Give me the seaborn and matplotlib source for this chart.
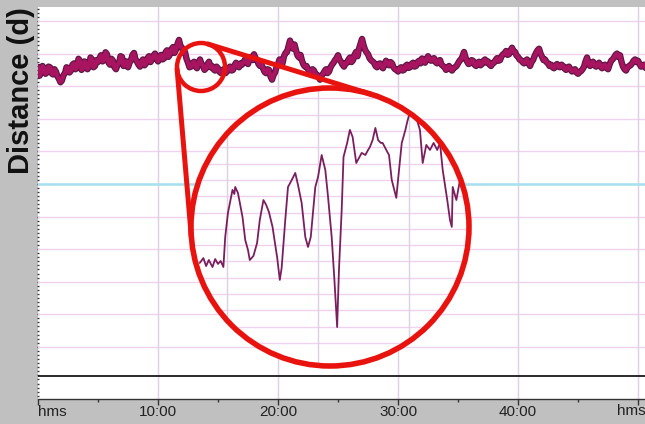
import numpy as np
import pandas as pd
import matplotlib
matplotlib.use("Agg")
import matplotlib.pyplot as plt
from matplotlib.patches import Circle
from matplotlib.ticker import FixedLocator
import seaborn as sns

# ---------------- data ----------------
# main trace: samples every 0.25 min ...
main_time = [i * 0.25 for i in range(204)]
main_dist = [
    9.59, 9.40, 9.55, 9.42, 9.58, 9.36, 9.44, 9.22, 9.18, 9.40,
    9.56, 9.48, 9.70, 9.58, 9.78, 9.55, 9.72, 9.60, 9.82, 9.62,
    9.74, 9.95, 9.80, 9.98, 9.66, 9.78, 9.52, 9.70, 9.90, 9.68,
    9.58, 9.80, 10.02, 9.75, 9.60, 9.82, 9.70, 9.92, 9.82, 10.00,
    9.76, 9.96, 9.85, 10.10, 9.98, 10.20, 10.12, 10.42, 10.18, 10.05,
    9.72, 9.60, 9.75, 9.55, 9.82, 9.62, 9.55, 9.75, 9.62, 9.48,
    9.55, 9.40, 9.52, 9.45, 9.60, 9.50, 9.72, 9.58, 9.66, 9.82,
    9.68, 9.90, 9.98, 9.80, 9.62, 9.55, 9.40, 9.50, 9.20, 9.42,
    9.68, 9.78, 9.92, 10.05, 10.40, 10.15, 10.10, 9.88, 9.78, 9.60,
    9.52, 9.40, 9.48, 9.35, 9.20, 9.38, 9.52, 9.45, 9.66, 9.80,
    9.95, 9.75, 9.60, 9.72, 9.88, 9.80, 10.05, 10.15, 10.45, 10.12,
    9.98, 9.80, 9.72, 9.58, 9.70, 9.55, 9.78, 9.64, 9.70, 9.52,
    9.45, 9.58, 9.50, 9.66, 9.58, 9.72, 9.62, 9.78, 9.85, 9.72,
    9.92, 9.78, 9.86, 9.70, 9.80, 9.62, 9.50, 9.62, 9.48, 9.58,
    9.70, 9.82, 10.05, 9.76, 9.70, 9.78, 9.62, 9.75, 9.68, 9.82,
    9.76, 9.62, 9.72, 9.86, 9.80, 9.98, 10.08, 9.98, 10.18, 10.05,
    9.90, 9.80, 9.70, 9.82, 9.62, 9.80, 10.02, 10.15, 9.90, 9.82,
    9.70, 9.66, 9.55, 9.68, 9.58, 9.62, 9.50, 9.60, 9.45, 9.52,
    9.38, 9.46, 9.60, 9.88, 9.62, 9.75, 9.60, 9.72, 9.55, 9.66,
    9.52, 9.78, 9.88, 10.00, 9.95, 9.60, 9.48, 9.62, 9.70, 9.82,
    9.78, 9.60, 9.66, 9.58,
]
# ... and the in-between samples (0.125 min offset)
mid_time = [i * 0.25 + 0.125 for i in range(203)]
mid_dist = [
    9.32, 9.62, 9.38, 9.60, 9.40, 9.52, 9.30, 9.12, 9.34, 9.58,
    9.42, 9.66, 9.52, 9.84, 9.50, 9.76, 9.52, 9.88, 9.58, 9.80,
    9.86, 9.76, 10.04, 9.72, 9.84, 9.58, 9.66, 9.92, 9.62, 9.76,
    9.72, 9.96, 9.82, 9.66, 9.76, 9.64, 9.86, 9.74, 9.94, 9.84,
    9.90, 9.82, 10.04, 9.90, 10.14, 10.02, 10.30, 10.22, 10.02, 9.84,
    9.58, 9.70, 9.60, 9.72, 9.68, 9.50, 9.68, 9.58, 9.52, 9.60,
    9.44, 9.50, 9.40, 9.56, 9.48, 9.64, 9.62, 9.70, 9.74, 9.74,
    9.84, 9.80, 9.86, 9.68, 9.66, 9.44, 9.52, 9.30, 9.34, 9.58,
    9.82, 9.70, 10.02, 10.22, 10.24, 10.28, 9.94, 9.96, 9.66, 9.62,
    9.44, 9.52, 9.36, 9.28, 9.32, 9.46, 9.40, 9.58, 9.72, 9.86,
    9.82, 9.66, 9.70, 9.82, 9.74, 9.96, 9.92, 10.30, 10.26, 10.04,
    9.86, 9.76, 9.62, 9.68, 9.60, 9.68, 9.70, 9.74, 9.58, 9.50,
    9.54, 9.48, 9.62, 9.56, 9.68, 9.60, 9.74, 9.70, 9.78, 9.84,
    9.82, 9.84, 9.74, 9.78, 9.66, 9.58, 9.58, 9.52, 9.56, 9.62,
    9.78, 9.92, 9.88, 9.68, 9.80, 9.66, 9.72, 9.64, 9.78, 9.72,
    9.66, 9.70, 9.80, 9.78, 9.92, 10.00, 9.96, 10.10, 10.06, 9.94,
    9.82, 9.74, 9.78, 9.70, 9.74, 9.92, 10.10, 10.00, 9.80, 9.74,
    9.62, 9.58, 9.64, 9.60, 9.66, 9.54, 9.58, 9.50, 9.50, 9.42,
    9.44, 9.52, 9.76, 9.70, 9.70, 9.64, 9.68, 9.60, 9.64, 9.56,
    9.66, 9.82, 9.96, 9.90, 9.74, 9.52, 9.58, 9.64, 9.78, 9.74,
    9.68, 9.64, 9.56,
]

# zoomed (inset) trace
inset_time = [
    11.70, 11.74, 11.77, 11.80, 11.84, 11.87, 11.90, 11.93, 11.96, 11.98,
    12.01, 12.06, 12.08, 12.09, 12.12, 12.17, 12.20, 12.23, 12.25, 12.29,
    12.33, 12.36, 12.40, 12.43, 12.46, 12.50, 12.53, 12.55, 12.58, 12.60,
    12.64, 12.67, 12.70, 12.75, 12.78, 12.82, 12.86, 12.89, 12.92, 12.97,
    13.00, 13.04, 13.08, 13.11, 13.15, 13.18, 13.21, 13.23, 13.26, 13.28,
    13.32, 13.35, 13.38, 13.42, 13.45, 13.48, 13.52, 13.55, 13.57, 13.60,
    13.63, 13.66, 13.69, 13.71, 13.75, 13.78, 13.81, 13.86, 13.89, 13.92,
    13.96, 13.98, 14.01, 14.04, 14.08, 14.12, 14.15, 14.19, 14.23, 14.27,
    14.31, 14.34, 14.37, 14.42, 14.45, 14.47, 14.48, 14.52, 14.56, 14.59,
]
inset_dist = [
    4.91, 5.21, 4.72, 5.09, 4.66, 5.15, 4.85, 5.03, 4.66, 6.50,
    7.98, 9.39, 9.14, 9.57, 9.20, 7.73, 6.32, 5.71, 5.09, 5.34,
    6.13, 7.55, 8.77, 8.47, 8.04, 7.12, 6.01, 5.28, 3.87, 4.60,
    7.55, 9.57, 9.88, 10.43, 9.69, 8.59, 6.50, 5.89, 6.50, 9.57,
    10.18, 11.53, 10.61, 8.96, 6.50, 3.87, 0.98, 4.48, 8.16, 11.41,
    12.27, 13.07, 12.64, 11.04, 11.35, 11.66, 11.53, 11.84, 12.02, 12.45,
    13.19, 12.45, 12.27, 12.27, 11.84, 11.53, 10.00, 8.90, 10.61, 12.27,
    13.07, 13.56, 14.17, 13.99, 13.80, 13.07, 11.04, 12.15, 11.84, 12.27,
    11.84, 12.27, 10.61, 8.77, 7.55, 7.12, 9.57, 8.77, 10.00, 10.12,
]

x_tick_values = [0, 10, 20, 30, 40, 50]
x_tick_labels = ["hms", "10:00", "20:00", "30:00", "40:00", "hms"]
x_minor_values = [5, 15, 25, 35, 45]
grid_rows = list(range(1, 12))
cyan_level = 6.0
baseline_level = 0.1

main_df = pd.concat([
    pd.DataFrame({"t": main_time, "d": main_dist}),
    pd.DataFrame({"t": mid_time, "d": mid_dist}),
]).sort_values("t").reset_index(drop=True)
inset_df = pd.DataFrame({"t": inset_time, "d": inset_dist})

# ---------------- style ----------------
sns.set_theme(style="white")
plt.rcParams["font.family"] = ["Liberation Sans", "DejaVu Sans"]

W, H = 645, 424
GRAY = "#c0c0c0"
PINK = "#efd3ee"
VPINK = "#ddd0e2"
RED = "#e8130e"

fig = plt.figure(figsize=(W / 100, H / 100), dpi=100, facecolor=GRAY)

def px_rect(x0, y0, x1, y1):
    return [x0 / W, 1 - y1 / H, (x1 - x0) / W, (y1 - y0) / H]

# ---------------- main axes ----------------
ax = fig.add_axes(px_rect(38, 7, 645, 399))
ax.set_facecolor("white")
ax.set_xlim(0, 50.58)
ax.set_ylim(-0.6, 11.43)

for g in grid_rows:
    ax.axhline(g, color=PINK, lw=1.0, zorder=1)
for v in x_tick_values[1:]:
    ax.axvline(v, color=VPINK, lw=1.0, zorder=1)
ax.axhline(cyan_level, color="#a6e2ee", lw=1.8, zorder=2)
ax.axhline(baseline_level, color="#1a1a1a", lw=1.3, zorder=2)

sns.lineplot(data=main_df, x="t", y="d", ax=ax, color="#5a1744", lw=4.6,
             sort=False, zorder=3)
sns.lineplot(data=main_df, x="t", y="d", ax=ax, color="#a8145f", lw=3.0,
             sort=False, zorder=4)
ax.set_xlabel("")
ax.set_ylabel("")

ax.xaxis.set_major_locator(FixedLocator(x_tick_values))
ax.xaxis.set_minor_locator(FixedLocator(x_minor_values))
ax.set_xticklabels(x_tick_labels[:-1] + [""])
ax.tick_params(axis="x", which="major", length=4.0, width=1, color="#333333",
               direction="out", pad=0.5, labelsize=11, labelcolor="#222222",
               bottom=True)
ax.tick_params(axis="x", which="minor", length=2.5, width=1, color="#333333",
               direction="out", bottom=True)
labs = ax.get_xticklabels()
labs[0].set_horizontalalignment("left")
ax.annotate(x_tick_labels[-1], xy=(x_tick_values[-1], 0),
            xycoords=("data", "axes fraction"), xytext=(-4.5, -3.3),
            textcoords="offset points", ha="center", va="top",
            fontsize=11, color="#222222", annotation_clip=False)
ax.yaxis.set_major_locator(FixedLocator([]))
ax.yaxis.set_minor_locator(FixedLocator(list(np.arange(-0.5, 11.45, 0.125))))
ax.tick_params(axis="y", which="minor", length=2.0, width=1.0,
               color="#3a3a50", direction="inout", left=True)
for s in ["top", "right", "left"]:
    ax.spines[s].set_visible(False)
ax.spines["bottom"].set_color("#333333")
ax.spines["bottom"].set_linewidth(1.0)

fig.text(21 / W, 1 - 91 / H, "Distance (d)", rotation=90, fontsize=21,
         fontweight="bold", ha="center", va="center", color="#111111")

# ---------------- inset (magnified) ----------------
cx, cy, R = 330, 227, 139
ins = fig.add_axes(px_rect(cx - R, cy - R, cx + R, cy + R))
ins.set_xlim(11.604, 14.659)
ins.set_ylim(-1.41, 15.64)
ins.set_facecolor("white")
clip = Circle((0.5, 0.5), 0.5, transform=ins.transAxes)
ins.patch.set_clip_path(clip)
for g in range(0, 16):
    ins.axhline(g, color=PINK, lw=1.0, zorder=1).set_clip_path(clip)
for v in [12, 13, 14]:
    ins.axvline(v, color=VPINK, lw=1.0, zorder=1).set_clip_path(clip)
sns.lineplot(data=inset_df, x="t", y="d", ax=ins, color="#7a1f5e", lw=1.3,
             sort=False, zorder=3)
for ln in ins.lines:
    ln.set_clip_path(clip)
ins.set_xlabel("")
ins.set_ylabel("")
ins.set_xticks([])
ins.set_yticks([])
for s in ins.spines.values():
    s.set_visible(False)

# ---------------- red annotation overlay ----------------
ov = fig.add_axes([0, 0, 1, 1])
ov.set_xlim(0, W)
ov.set_ylim(H, 0)
ov.axis("off")
ov.patch.set_alpha(0)

c1 = np.array([201.0, 67.0]); r1 = 24.0
c2 = np.array([cx, cy], dtype=float); r2 = float(R)
d = c2 - c1
D = np.hypot(*d)
u = d / D
perp = np.array([-u[1], u[0]])
cphi = (r2 - r1) / D
sphi = np.sqrt(1 - cphi ** 2)
for sgn in (1, -1):
    n = u * cphi + sgn * perp * sphi
    p1 = c1 - r1 * n
    p2 = c2 - r2 * n
    ov.plot([p1[0], p2[0]], [p1[1], p2[1]], color=RED, lw=3.6,
            solid_capstyle="round")
ov.add_patch(Circle(c1, r1, fill=False, ec=RED, lw=3.2))
ov.add_patch(Circle(c2, r2, fill=False, ec=RED, lw=4.0))

fig.savefig("out.png", dpi=100, facecolor=GRAY)
